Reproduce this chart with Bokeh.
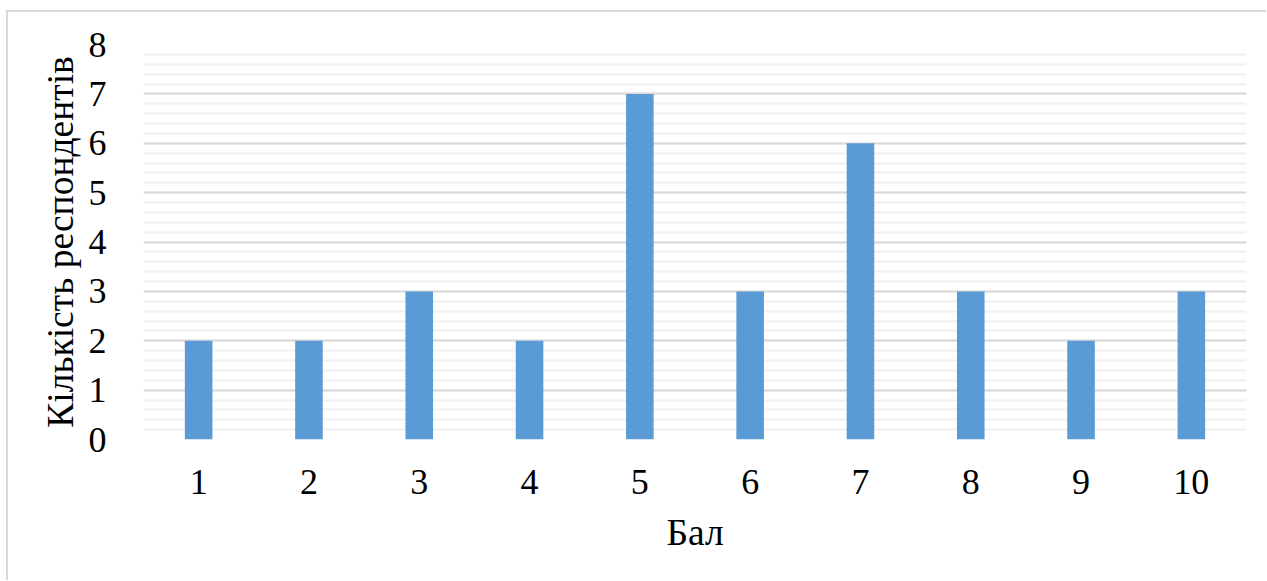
from bokeh.plotting import figure
from bokeh.models import Range1d, FixedTicker
from bokeh.embed import file_html
from bokeh.resources import INLINE

scores = [1, 2, 3, 4, 5, 6, 7, 8, 9, 10]
counts = [2, 2, 3, 2, 7, 3, 6, 3, 2, 3]
y_ticks = [0, 1, 2, 3, 4, 5, 6, 7, 8]
x_title = "Бал"
y_title = "Кількість респондентів"

p = figure(width=1260, height=570, output_backend="svg", toolbar_location=None,
           x_range=Range1d(0.5, 10.5), y_range=Range1d(0, 8),
           min_border_left=135, min_border_right=22, min_border_top=32, min_border_bottom=143)
p.styles = {"border-left": "2px solid #d9d9d9", "border-top": "2px solid #d9d9d9",
            "margin-left": "6px", "margin-top": "10px"}
p.outline_line_color = None

p.vbar(x=scores, top=counts, width=0.25, fill_color="#5B9BD5", line_color=None)

font = "Liberation Serif"
p.xaxis.ticker = FixedTicker(ticks=scores)
p.yaxis.ticker = FixedTicker(ticks=y_ticks, minor_ticks=[i * 0.2 for i in range(41)])
for ax in (p.xaxis, p.yaxis):
    ax.axis_line_color = None
    ax.major_tick_line_color = None
    ax.minor_tick_line_color = None
    ax.major_label_text_font = font
    ax.major_label_text_font_size = "36px"
    ax.major_label_text_color = "#000000"
    ax.axis_label_text_font = font
    ax.axis_label_text_font_size = "37.5px"
    ax.axis_label_text_font_style = "normal"
    ax.axis_label_text_color = "#000000"
p.xaxis.axis_label = x_title
p.yaxis.axis_label = y_title
p.yaxis.major_label_standoff = 31
p.yaxis.axis_label_standoff = 5
p.xaxis.major_label_standoff = 24
p.xaxis.axis_label_standoff = 15

p.xgrid.grid_line_color = None
p.ygrid.grid_line_color = "#d9d9d9"
p.ygrid.grid_line_width = 2
p.ygrid.minor_grid_line_color = "#f0f0f0"
p.ygrid.minor_grid_line_width = 2
p.background_fill_color = "white"
p.border_fill_color = "white"

open("out.html", "w").write(file_html(p, INLINE))
